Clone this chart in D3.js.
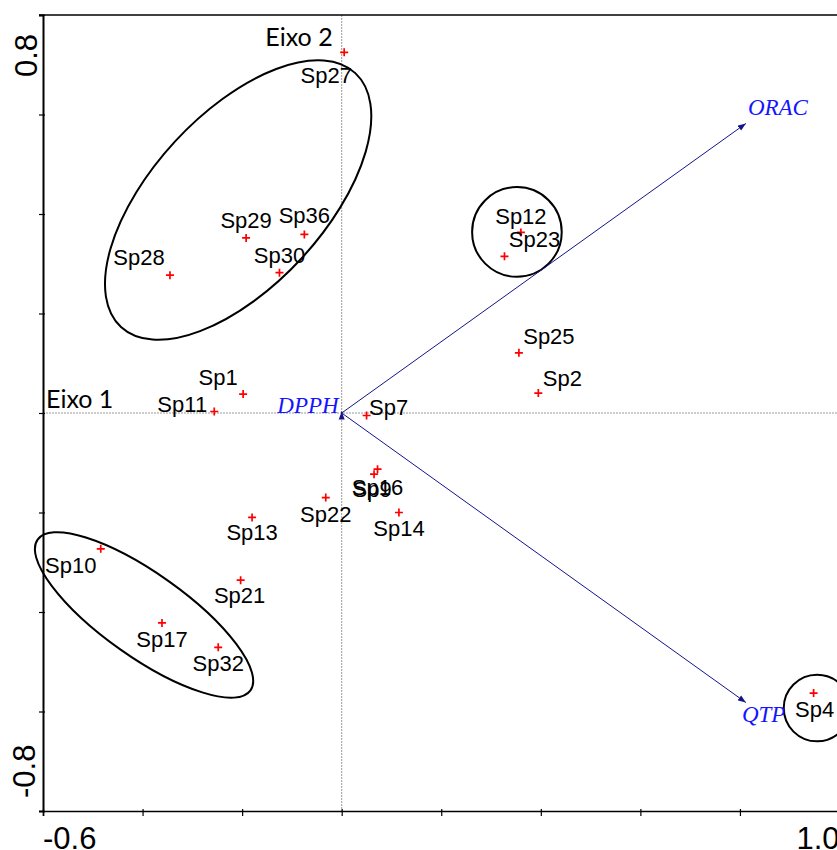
<!DOCTYPE html>
<html>
<head>
<meta charset="utf-8">
<script src="https://cdn.jsdelivr.net/npm/d3@7"></script>
<style>
  body { margin: 0; background: #fff; }
  svg { display: block; }
</style>
</head>
<body>
<div id="chart"></div>
<script>
// species scores (Eixo 1, Eixo 2)
var species = ["Sp27", "Sp29", "Sp36", "Sp30", "Sp28", "Sp12", "Sp23", "Sp25", "Sp2",
               "Sp1", "Sp11", "Sp7", "Sp16", "Sp9", "Sp22", "Sp14", "Sp13", "Sp10",
               "Sp21", "Sp17", "Sp32", "Sp4"];
var axis1 = [0.005, -0.192, -0.075, -0.125, -0.345, 0.360, 0.327, 0.356, 0.395,
             -0.198, -0.256, 0.050, 0.072, 0.065, -0.032, 0.115, -0.180, -0.484,
             -0.203, -0.361, -0.248, 0.948];
var axis2 = [0.725, 0.352, 0.359, 0.282, 0.277, 0.363, 0.315, 0.121, 0.040,
             0.038, 0.003, -0.005, -0.113, -0.123, -0.170, -0.200, -0.210, -0.273,
             -0.336, -0.422, -0.471, -0.563];

// environmental vectors
var variables = ["ORAC", "QTP", "DPPH"];
var varAxis1 = [0.812, 0.812, 0.0];
var varAxis2 = [0.582, -0.582, 0.003];

// group envelopes (centre, semi axes, angle in degrees)
var groupCx = [-0.208, 0.352, -0.397, 0.955];
var groupCy = [0.428, 0.364, -0.406, -0.593];
var groupA = [0.347, 0.090, 0.262, 0.067];
var groupB = [0.173, 0.090, 0.084, 0.067];
var groupAngle = [47.3, 0, -35.3, 0];

var xTicks = [-0.6, -0.4, -0.2, 0, 0.2, 0.4, 0.6, 0.8, 1.0];
var yTicks = [-0.8, -0.6, -0.4, -0.2, 0, 0.2, 0.4, 0.6, 0.8];

// label placement, px offset from the point (centre of text, baseline)
var labelPos = {
  Sp27: [-18, 31], Sp29: [0, -10], Sp36: [0, -11], Sp30: [0, -10], Sp28: [-31, -10],
  Sp12: [0, -8], Sp23: [30, -9], Sp25: [30, -9], Sp2: [24, -7], Sp1: [-25, -9],
  Sp11: [-32, 0], Sp7: [22, 0], Sp16: [0, 26], Sp9: [-2, 23], Sp22: [0, 24],
  Sp14: [0, 23], Sp13: [0, 23], Sp10: [-30, 24], Sp21: [-1, 23], Sp17: [0, 24],
  Sp32: [0, 24], Sp4: [1, 24]
};

var width = 837, height = 850;

var x = d3.scaleLinear().domain([-0.6, 1.0]).range([43, 839.5]);
var y = d3.scaleLinear().domain([-0.8, 0.8]).range([811, 15]);

var svg = d3.select("#chart").append("svg")
    .attr("width", width)
    .attr("height", height);

svg.append("defs").append("marker")
    .attr("id", "head")
    .attr("markerUnits", "userSpaceOnUse")
    .attr("viewBox", "0 -4 9 8")
    .attr("refX", 8).attr("refY", 0)
    .attr("markerWidth", 9).attr("markerHeight", 8)
    .attr("orient", "auto")
  .append("path")
    .attr("d", "M0,-3L8,0L0,3Z")
    .attr("fill", "#14148a");

// centre lines
svg.append("line")
    .attr("x1", x(0)).attr("x2", x(0))
    .attr("y1", y(0.8)).attr("y2", y(-0.8))
    .attr("stroke", "#808080").attr("stroke-width", 0.8)
    .attr("stroke-dasharray", "2,1");
svg.append("line")
    .attr("x1", x(-0.6)).attr("x2", x(1.0))
    .attr("y1", y(0)).attr("y2", y(0))
    .attr("stroke", "#808080").attr("stroke-width", 0.8)
    .attr("stroke-dasharray", "2,1");

// frame
svg.append("line")
    .attr("x1", x(-0.6) - 4).attr("x2", x(1.0))
    .attr("y1", y(0.8)).attr("y2", y(0.8))
    .attr("stroke", "#000").attr("stroke-width", 1.6);
svg.append("line")
    .attr("x1", x(1.0)).attr("x2", x(1.0))
    .attr("y1", y(0.8)).attr("y2", y(-0.8))
    .attr("stroke", "#000").attr("stroke-width", 1.6);

// axes
var gx = svg.append("g")
    .attr("transform", "translate(0," + y(-0.8) + ")")
    .call(d3.axisBottom(x).tickValues(xTicks).tickSizeOuter(0).tickSize(5).tickFormat(""));
gx.select(".domain").attr("stroke-width", 1.6);
gx.selectAll(".tick line").attr("y1", -2).attr("y2", 5).attr("stroke-width", 1.2);

var gy = svg.append("g")
    .attr("transform", "translate(" + x(-0.6) + ",0)")
    .call(d3.axisLeft(y).tickValues(yTicks).tickSizeOuter(0).tickSize(4).tickFormat(""));
gy.select(".domain").attr("stroke-width", 2);
gy.selectAll(".tick line").attr("x1", 2).attr("x2", -4).attr("stroke-width", 1.2);

// axis end labels
var endFont = "'Liberation Sans', Arial, sans-serif";
svg.append("text")
    .attr("x", x(-0.6)).attr("y", 849)
    .attr("font-family", endFont).attr("font-size", 31)
    .text("-0.6");
svg.append("text")
    .attr("x", x(1.0)).attr("y", 849)
    .attr("text-anchor", "end")
    .attr("font-family", endFont).attr("font-size", 31)
    .text("1.0");
svg.append("text")
    .attr("transform", "translate(37," + (y(0.8) + 62) + ") rotate(-90)")
    .attr("font-family", endFont).attr("font-size", 31)
    .text("0.8");
svg.append("text")
    .attr("transform", "translate(35," + (y(-0.8) - 13) + ") rotate(-90)")
    .attr("font-family", endFont).attr("font-size", 31)
    .text("-0.8");

// axis names
svg.append("text")
    .attr("x", x(-0.6) + 3).attr("y", y(0) - 5)
    .attr("font-family", "Lato, 'Open Sans', sans-serif").attr("font-size", 25)
    .text("Eixo 1");
svg.append("text")
    .attr("x", x(0) - 9).attr("y", 46)
    .attr("text-anchor", "end")
    .attr("font-family", "Lato, 'Open Sans', sans-serif").attr("font-size", 25)
    .text("Eixo 2");

// group envelopes
var kx = x(1) - x(0);
svg.selectAll(".group")
    .data(groupCx)
    .enter().append("ellipse")
      .attr("class", "group")
      .attr("transform", function(d, i) {
        return "translate(" + x(d) + "," + y(groupCy[i]) + ") rotate(" + (-groupAngle[i]) + ")";
      })
      .attr("rx", function(d, i) { return groupA[i] * kx; })
      .attr("ry", function(d, i) { return groupB[i] * kx; })
      .attr("fill", "none")
      .attr("stroke", "#000")
      .attr("stroke-width", 2);

// environmental arrows
var vec = svg.selectAll(".vec")
    .data(variables)
    .enter().append("g")
      .attr("class", "vec");

vec.append("line")
    .attr("x1", x(0)).attr("y1", y(0))
    .attr("x2", function(d, i) { return x(varAxis1[i]); })
    .attr("y2", function(d, i) { return y(varAxis2[i]); })
    .attr("stroke", "#14148a").attr("stroke-width", 1)
    .attr("marker-end", "url(#head)");

var varLabel = { ORAC: [2, -8, "start"], QTP: [-4, 19, "start"], DPPH: [-3, 1, "end"] };
vec.append("text")
    .attr("x", function(d, i) { return x(varAxis1[i]) + varLabel[d][0]; })
    .attr("y", function(d, i) { return y(varAxis2[i]) + varLabel[d][1]; })
    .attr("text-anchor", function(d) { return varLabel[d][2]; })
    .attr("font-family", "'Liberation Serif', 'Times New Roman', serif")
    .attr("font-style", "italic")
    .attr("font-size", 23)
    .attr("fill", "#1414ff")
    .text(function(d) { return d; });

// species points
var sp = svg.selectAll(".sp")
    .data(species)
    .enter().append("g")
      .attr("class", "sp")
      .attr("transform", function(d, i) { return "translate(" + x(axis1[i]) + "," + y(axis2[i]) + ")"; });

sp.append("path")
    .attr("d", "M-4,0H4M0,-4V4")
    .attr("stroke", "#ff0000")
    .attr("stroke-width", 1.7);

sp.append("text")
    .attr("x", function(d) { return labelPos[d][0]; })
    .attr("y", function(d) { return labelPos[d][1]; })
    .attr("text-anchor", "middle")
    .attr("font-family", "'Liberation Sans', Arial, sans-serif")
    .attr("font-size", 22)
    .attr("fill", "#000")
    .text(function(d) { return d; });
</script>
</body>
</html>
